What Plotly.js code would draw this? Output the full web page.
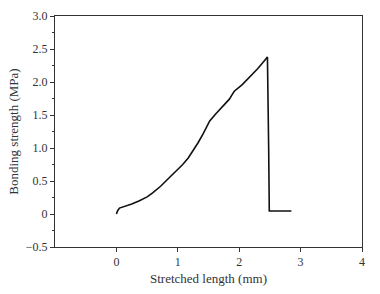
<!DOCTYPE html>
<html><head><meta charset="utf-8">
<script src="https://cdn.plot.ly/plotly-3.0.1.min.js"></script>
<style>html,body{margin:0;padding:0;background:#fff;}#c{width:380px;height:294px;}</style>
</head><body><div id="c"></div>
<script>
const stretchedLength = [0, 0.02, 0.05, 0.13, 0.25, 0.375, 0.5, 0.59, 0.72, 0.86, 0.97, 1.08, 1.17, 1.245, 1.33, 1.41, 1.47, 1.52, 1.62, 1.73, 1.84, 1.88, 1.92, 2.05, 2.17, 2.30, 2.40, 2.46, 2.48, 2.49, 2.65, 2.85];
const bondingStrength = [0, 0.05, 0.09, 0.11, 0.15, 0.2, 0.26, 0.32, 0.42, 0.55, 0.65, 0.75, 0.85, 0.95, 1.08, 1.21, 1.33, 1.41, 1.52, 1.63, 1.74, 1.80, 1.86, 1.96, 2.07, 2.20, 2.31, 2.38, 1.0, 0.045, 0.045, 0.045];
const yTickVals = [-0.5, 0, 0.5, 1.0, 1.5, 2.0, 2.5, 3.0];
const yTickText = ["\u22120.5", "0", "0.5", "1.0", "1.5", "2.0", "2.5", "3.0"];
const xTickVals = [0, 1, 2, 3, 4];
const xTickText = ["0", "1", "2", "3", "4"];

const font = {family: "Liberation Serif, Times New Roman, serif", size: 12, color: "#333"};
const titleFont = {family: "Liberation Serif, Times New Roman, serif", size: 13, color: "#333"};
Plotly.newPlot("c", [{
  x: stretchedLength, y: bondingStrength, mode: "lines",
  line: {color: "#111", width: 1.6}, hoverinfo: "skip"
}], {
  width: 380, height: 294,
  margin: {l: 55, r: 18, t: 16, b: 47},
  paper_bgcolor: "#fff", plot_bgcolor: "#fff",
  showlegend: false, font: font,
  xaxis: {range: [-1, 4], tickvals: xTickVals, ticktext: xTickText,
    showgrid: false, zeroline: false, showline: true, linecolor: "#333", linewidth: 1, mirror: true,
    ticks: "outside", ticklen: 4, tickcolor: "#333",
    title: {text: "Stretched length (mm)", font: titleFont, standoff: 5}},
  yaxis: {range: [-0.5, 3.0], tickvals: yTickVals, ticktext: yTickText,
    showgrid: false, zeroline: false, showline: true, linecolor: "#333", linewidth: 1, mirror: true,
    ticks: "outside", ticklen: 4, tickcolor: "#333",
    minor: {tickvals: [-0.25, 0.25, 0.75, 1.25, 1.75, 2.25, 2.75], ticks: "outside", ticklen: 2, tickcolor: "#333"},
    title: {text: "Bonding strength (MPa)", font: titleFont, standoff: 4}}
}, {staticPlot: true});
</script></body></html>
